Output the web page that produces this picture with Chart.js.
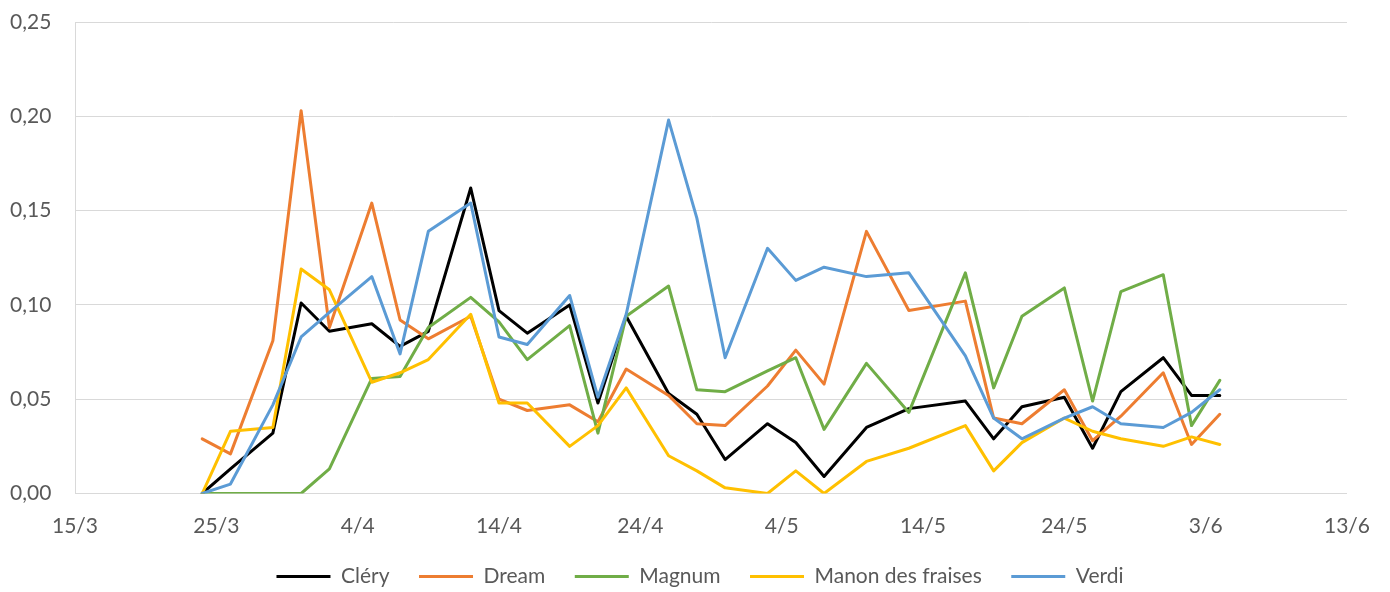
<!DOCTYPE html>
<html>
<head>
<meta charset="utf-8">
<script src="https://cdn.jsdelivr.net/npm/chart.js@4.4.1/dist/chart.umd.min.js"></script>
<style>
  html, body { margin: 0; padding: 0; background: #fff; }
  #wrap { width: 1390px; height: 592px; }
</style>
</head>
<body>
<div id="wrap"><canvas id="chart"></canvas></div>
<script>
const dates = ['24/3', '26/3', '29/3', '31/3', '2/4', '5/4', '7/4', '9/4', '12/4', '14/4', '16/4',
    '19/4', '21/4', '23/4', '26/4', '28/4', '30/4', '3/5', '5/5', '7/5', '10/5', '13/5', '17/5',
    '19/5', '21/5', '24/5', '26/5', '28/5', '31/5', '2/6', '4/6'];

const clery = [0, 0.013, 0.032, 0.101, 0.086, 0.090, 0.078, 0.086, 0.162, 0.097, 0.085,
    0.100, 0.048, 0.094, 0.053, 0.042, 0.018, 0.037, 0.027, 0.009, 0.035, 0.045, 0.049,
    0.029, 0.046, 0.051, 0.024, 0.054, 0.072, 0.052, 0.052];
const dream = [0.029, 0.021, 0.081, 0.203, 0.088, 0.154, 0.092, 0.082, 0.094, 0.050, 0.044,
    0.047, 0.038, 0.066, 0.052, 0.037, 0.036, 0.057, 0.076, 0.058, 0.139, 0.097, 0.102,
    0.040, 0.037, 0.055, 0.028, 0.041, 0.064, 0.026, 0.042];
const magnum = [0, 0, 0, 0, 0.013, 0.061, 0.062, 0.088, 0.104, 0.091, 0.071,
    0.089, 0.032, 0.094, 0.110, 0.055, 0.054, 0.065, 0.072, 0.034, 0.069, 0.043, 0.117,
    0.056, 0.094, 0.109, 0.049, 0.107, 0.116, 0.036, 0.060];
const manon = [0, 0.033, 0.035, 0.119, 0.108, 0.059, 0.064, 0.071, 0.095, 0.048, 0.048,
    0.025, 0.036, 0.056, 0.020, 0.012, 0.003, 0, 0.012, 0, 0.017, 0.024, 0.036,
    0.012, 0.027, 0.040, 0.033, 0.029, 0.025, 0.030, 0.026];
const verdi = [0, 0.005, 0.047, 0.083, 0.096, 0.115, 0.074, 0.139, 0.154, 0.083, 0.079,
    0.105, 0.051, 0.095, 0.198, 0.146, 0.072, 0.130, 0.113, 0.120, 0.115, 0.117, 0.073,
    0.040, 0.029, 0.040, 0.046, 0.037, 0.035, 0.043, 0.055];

const yTicks = [0, 0.05, 0.10, 0.15, 0.20, 0.25];
const startDate = Date.UTC(2018, 2, 15);
const DAY = 86400000;

function dayOffset(label) {
    const parts = label.split('/');
    return (Date.UTC(2018, parseInt(parts[1]) - 1, parseInt(parts[0])) - startDate) / DAY;
}

function toPoints(values) {
    return values.map((v, i) => ({ x: dayOffset(dates[i]), y: v }));
}

function makeSet(label, values, color, order) {
    return {
        label: label,
        data: toPoints(values),
        borderColor: color,
        backgroundColor: color,
        borderWidth: 3,
        pointRadius: 0,
        pointHoverRadius: 0,
        tension: 0,
        fill: false,
        borderJoinStyle: 'round',
        borderCapStyle: 'round',
        order: order
    };
}

const fontFamily = 'Lato, "Open Sans", sans-serif';
const textColor = '#595959';

new Chart(document.getElementById('chart').getContext('2d'), {
    type: 'line',
    data: {
        datasets: [
            makeSet('Cléry', clery, '#000000', 5),
            makeSet('Dream', dream, '#ED7D31', 4),
            makeSet('Magnum', magnum, '#70AD47', 3),
            makeSet('Manon des fraises', manon, '#FFC000', 2),
            makeSet('Verdi', verdi, '#5B9BD5', 1)
        ]
    },
    options: {
        responsive: true,
        maintainAspectRatio: false,
        animation: false,
        layout: { padding: { left: 10, right: 0, top: 22, bottom: -5 } },
        plugins: {
            tooltip: { enabled: false },
            legend: {
                position: 'bottom',
                labels: {
                    usePointStyle: true,
                    pointStyle: 'line',
                    pointStyleWidth: 54,
                    padding: 29.5,
                    color: textColor,
                    font: { family: fontFamily, size: 21 },
                    sort: (a, b) => a.datasetIndex - b.datasetIndex
                }
            }
        },
        scales: {
            x: {
                type: 'linear',
                min: 0,
                max: 90,
                afterFit: (scale) => { scale.height = 43; },
                ticks: {
                    stepSize: 10,
                    padding: 20,
                    color: textColor,
                    font: { family: fontFamily, size: 21 },
                    maxRotation: 0,
                    callback: (v) => {
                        const d = new Date(startDate + v * DAY);
                        return d.getUTCDate() + '/' + (d.getUTCMonth() + 1);
                    }
                },
                grid: { display: false, drawTicks: false },
                border: { display: true, color: '#d9d9d9', width: 1 }
            },
            y: {
                min: 0,
                max: 0.25,
                afterFit: (scale) => { scale.width = 65; },
                afterBuildTicks: (scale) => { scale.ticks = yTicks.map(v => ({ value: v })); },
                ticks: {
                    padding: 0,
                    crossAlign: 'far',
                    color: textColor,
                    font: { family: fontFamily, size: 21 },
                    callback: (v) => v.toFixed(2).replace('.', ',')
                },
                grid: { color: '#d9d9d9', lineWidth: 1, drawTicks: false },
                border: { display: true, color: '#d9d9d9', width: 1 }
            },
            spacer: {
                position: 'right',
                min: 0,
                max: 1,
                afterFit: (scale) => { scale.width = 40; },
                ticks: { display: false },
                grid: { display: false, drawTicks: false },
                border: { display: false }
            }
        }
    }
});
</script>
</body>
</html>
